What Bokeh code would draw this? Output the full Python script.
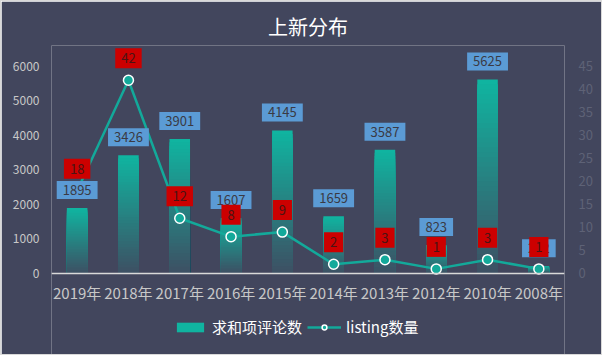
from bokeh.plotting import figure
from bokeh.models import (Range1d, LinearAxis, ColumnDataSource, Legend, LegendItem,
                          FixedTicker, Span)
from bokeh.core.properties import value
from bokeh.embed import file_html
from bokeh.resources import INLINE

years = ["2019年", "2018年", "2017年", "2016年", "2015年", "2014年", "2013年", "2012年", "2010年", "2008年"]
comments = [1895, 3426, 3901, 1607, 4145, 1659, 3587, 823, 5625, 212]
listings = [18, 42, 12, 8, 9, 2, 3, 1, 3, 1]
series_names = ["求和项评论数", "listing数量"]

BG = "#42465d"
FONT = "Noto Sans CJK SC"
TEAL = "#13a99a"

# frame extends down to the bottom so that the legend can sit below the category labels
p = figure(frame_width=513, frame_height=309, x_range=years, y_range=Range1d(-2348, 6608),
           output_backend="svg", toolbar_location=None,
           background_fill_color=BG, border_fill_color=BG,
           min_border_left=50, min_border_right=37, min_border_top=44, min_border_bottom=0,
           styles={"border": "1px solid #d9d9d9"})
p.outline_line_color = None
p.grid.grid_line_color = None
p.extra_y_ranges = {"cnt": Range1d(-2348 * 45 / 6000, 6608 * 45 / 6000)}

p.title.text = "上新分布"
p.title.align = "center"
p.title.text_color = "white"
p.title.text_font = FONT
p.title.text_font_size = "20px"
p.title.text_font_style = "normal"

# gradient bars: opaque, progressively shorter, darker bars drawn over each other
N = 40
top_c = (16, 180, 160)
bot_c = (62, 78, 98)
bar_renderers = []
for i in range(N):
    frac = (N - i) / N
    c = tuple(int(round(bot_c[k] + (top_c[k] - bot_c[k]) * frac)) for k in range(3))
    src = ColumnDataSource(dict(x=years, top=[v * frac for v in comments]))
    r = p.vbar(x="x", bottom=0, top="top", width=0.4, source=src,
               fill_color="#%02x%02x%02x" % c, line_color=None)
    bar_renderers.append(r)

# category axis line and labels
p.add_layout(Span(location=0, dimension="width", line_color="#d9d9d9", line_width=1.5))
csrc = ColumnDataSource(dict(x=years, y=[0] * len(years), t=years))
p.text(x="x", y="y", text="t", source=csrc, y_offset=19,
       text_align="center", text_baseline="middle",
       text_font=value(FONT), text_font_size="15px", text_color="#c8c8c8")
p.xaxis.visible = False

# line
lsrc = ColumnDataSource(dict(x=years, y=listings, t=[str(v) for v in listings]))
line_r = p.line(x="x", y="y", source=lsrc, y_range_name="cnt", line_color=TEAL, line_width=2.5)
circ_r = p.scatter(x="x", y="y", source=lsrc, y_range_name="cnt", size=10,
                   fill_color=TEAL, line_color="white", line_width=1.5)

# blue labels on bars
bsrc = ColumnDataSource(dict(x=years, y=comments, t=[str(v) for v in comments]))
p.text(x="x", y="y", text="t", source=bsrc, y_offset=-18,
       text_align="center", text_baseline="middle",
       text_font=value(FONT), text_font_size="13px", text_color="#3a3a44",
       background_fill_color="#5b9bd5", padding=[6, 4])

# red labels
p.text(x="x", y="y", text="t", source=lsrc, y_range_name="cnt", y_offset=-22,
       text_align="center", text_baseline="middle",
       text_font=value(FONT), text_font_size="13px", text_color="#4a1414",
       background_fill_color="#cc0000", padding=[6, 5])

# left axis
p.yaxis.ticker = FixedTicker(ticks=[0, 1000, 2000, 3000, 4000, 5000, 6000])
p.yaxis.axis_line_color = None
p.yaxis.major_tick_line_color = None
p.yaxis.minor_tick_line_color = None
p.yaxis.major_label_text_color = "#c8c8c8"
p.yaxis.major_label_text_font = FONT
p.yaxis.major_label_text_font_size = "12px"
p.yaxis.major_label_standoff = 6

# right axis
ax2 = LinearAxis(y_range_name="cnt", ticker=FixedTicker(ticks=list(range(0, 50, 5))))
ax2.axis_line_color = None
ax2.major_tick_line_color = None
ax2.minor_tick_line_color = None
ax2.major_label_text_color = "#5e6276"
ax2.major_label_text_font = FONT
ax2.major_label_text_font_size = "13px"
ax2.major_label_standoff = 8
p.add_layout(ax2, "right")

legend = Legend(items=[LegendItem(label=series_names[0], renderers=[bar_renderers[0]]),
                       LegendItem(label=series_names[1], renderers=[line_r, circ_r])],
                orientation="horizontal", location=(122, 17),
                background_fill_alpha=0, border_line_color=None,
                label_text_color="white", label_text_font=FONT, label_text_font_size="15px",
                glyph_width=34, glyph_height=12, spacing=5, label_standoff=5,
                margin=0, padding=4)
p.add_layout(legend)

open("out.html", "w").write(file_html(p, INLINE))
